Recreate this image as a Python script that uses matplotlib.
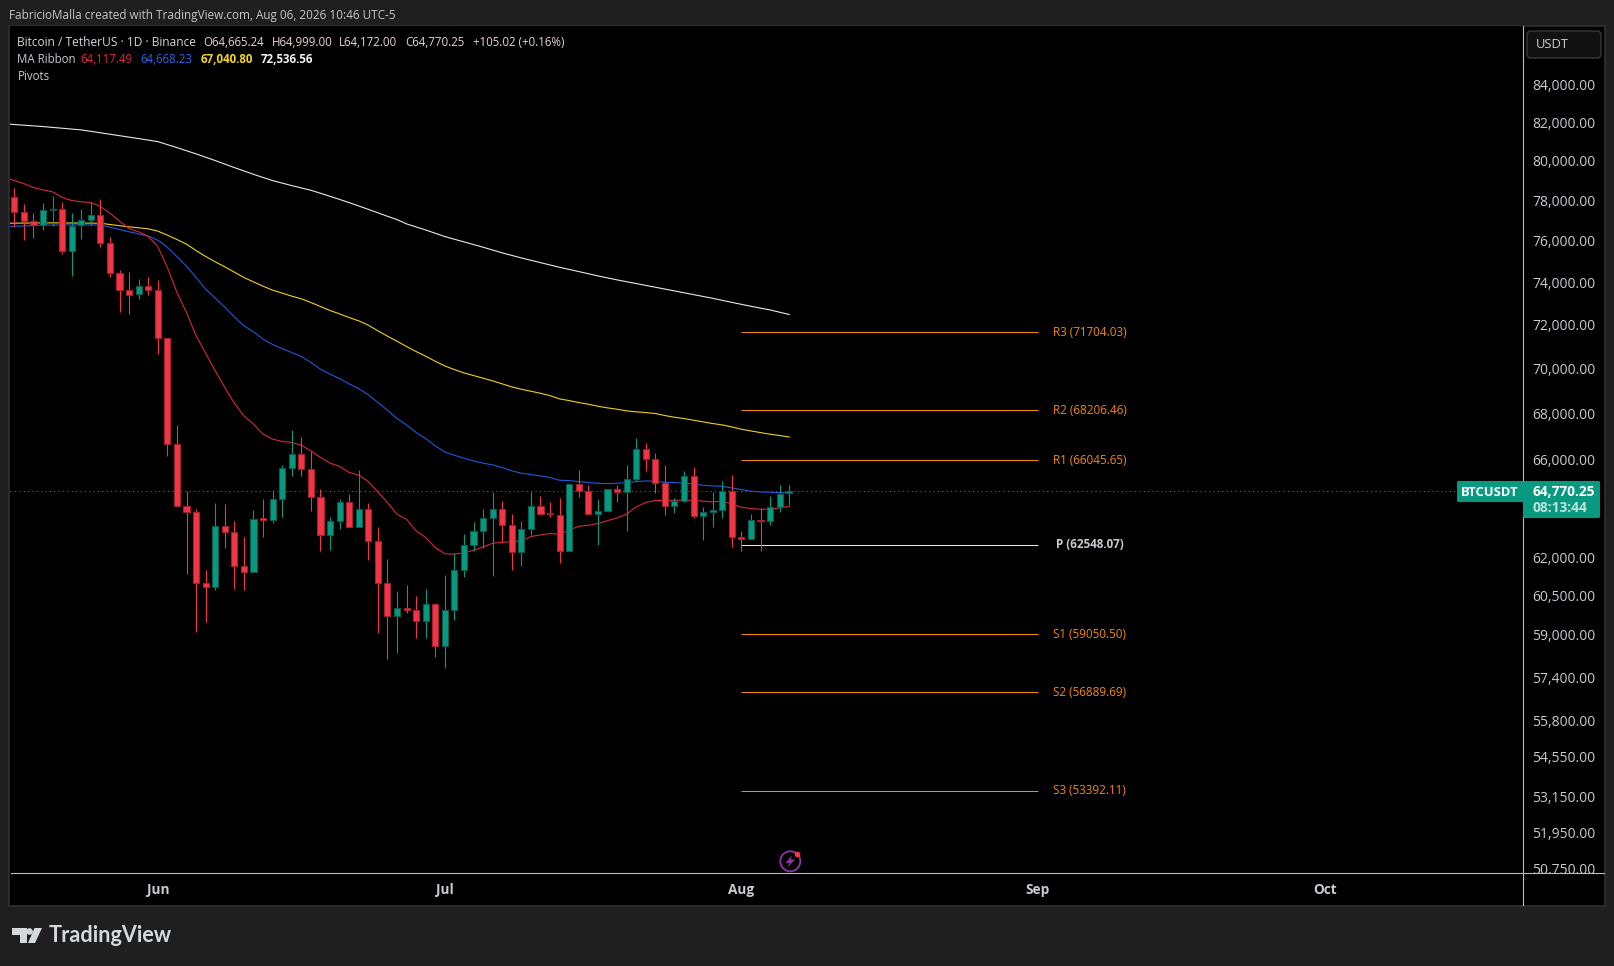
import numpy as np
import matplotlib
matplotlib.use('Agg')
import matplotlib.pyplot as plt
from matplotlib.patches import Rectangle, FancyBboxPatch, Polygon, Circle
from matplotlib.ticker import NullLocator
from matplotlib.transforms import ScaledTranslation

# days counted from Jun 1
days = list(range(-15, 67))
opens = [78205, 77502, 77055, 76858, 77585, 77652, 75581, 76825, 77087, 77351, 75973, 74475, 73665, 73477, 73901,
         73712, 71426, 66748, 64136, 63902, 61049, 60891, 63329, 63086, 61722, 61472, 63626, 63572, 64439, 65737,
         66329, 65695, 64522, 62965, 63531, 64315, 63288, 64026, 62722, 61049, 59767, 60077, 59999, 59574, 60232,
         58626, 59999, 61564, 62561, 63127, 63654, 64026, 63369, 62277, 63208, 64150, 63833, 63778, 62318, 65062,
         64770, 63819, 63943, 64853, 64729, 65273, 66544, 66118, 65104, 64150, 64357, 65400, 63736, 63902, 63985,
         64770, 62884, 62803, 63572, 63531, 64095, 64665.24]
highs = [78673, 77870, 77451, 77920, 78288, 77954, 77451, 77619, 77954, 78121, 76235, 74635, 74539, 74202, 74298,
         74154, 71426, 67555, 64770, 64000, 61537, 64246, 64205, 63531, 62857, 63957, 64412, 64784, 65836, 67334,
         67032, 66443, 64825, 63668, 64412, 64618, 65625, 64274, 63261, 61973, 60736, 60943, 60542, 60788, 60271,
         61339, 62211, 62978, 63464, 64000, 64701, 64329, 63792, 63504, 64701, 64536, 64288, 64453, 65104, 65625,
         64991, 64412, 64853, 64991, 65836, 67007, 66774, 66343, 65836, 64481, 65583, 65752, 64109, 64729, 65188,
         65414, 63127, 63792, 64067, 64563, 65019, 64999.00]
lows = [76759, 76104, 76202, 76579, 76792, 75421, 74363, 76137, 76825, 75743, 74298, 72660, 72565, 73272, 73445,
        70723, 66235, 64136, 61392, 59145, 59524, 60762, 62426, 60788, 60749, 61472, 62871, 63423, 63681, 65385,
        65385, 63916, 62304, 62345, 63181, 63288, 63288, 61947, 59107, 58126, 58336, 59858, 58917, 58917, 58200,
        57792, 59600, 61273, 62318, 62439, 61313, 62682, 61537, 61696, 62938, 63819, 63668, 61815, 62318, 64494,
        63750, 62534, 63943, 64288, 63113, 65160, 65583, 64660, 63750, 63833, 64302, 63626, 62749, 63275, 63626,
        62453, 62304, 62803, 62304, 63342, 63888, 64172.00]
closes = [77502, 77038, 76858, 77585, 77652, 75581, 76809, 77087, 77351, 75973, 74475, 73665, 73461, 73901, 73696,
          71426, 66748, 64136, 63902, 61049, 60891, 63329, 63073, 61722, 61472, 63613, 63558, 64439, 65737, 66329,
          65695, 64522, 62965, 63531, 64315, 63288, 64026, 62722, 61049, 59767, 60064, 59999, 59574, 60232, 58626,
          59999, 61564, 62561, 63127, 63654, 64026, 63369, 62277, 63208, 64150, 63819, 63792, 62318, 65062, 64770,
          63805, 63930, 64853, 64729, 65273, 66544, 66118, 65104, 64150, 64357, 65400, 63723, 63888, 63985, 64770,
          62884, 62803, 63572, 63531, 64095, 64646, 64770.25]

# MA ribbon
red_days = [-15.4] + days
red_ma = [79129, 79061, 78908, 78707, 78590, 78489, 78205, 78054, 77987, 77954, 77753, 77418, 77022, 76661, 76498,
          76268, 75776, 74763, 73571, 72628, 71549, 70753, 69956, 69210, 68516, 67958, 67598, 67166, 66949, 66849,
          66805, 66690, 66447, 66165, 65925, 65784, 65530, 65417, 65149, 64715, 64274, 63792, 63585, 63113, 62844,
          62439, 62197, 62171, 62237, 62331, 62466, 62614, 62655, 62668, 62709, 62884, 62951, 63005, 62978, 63140,
          63302, 63342, 63410, 63531, 63640, 63792, 64095, 64274, 64357, 64357, 64370, 64370, 64370, 64329, 64302,
          64329, 64205, 64081, 64026, 63998, 63998, 64053, 64117.49]
blue_days = [-15.4, -12, -8, -6] + list(range(-5, 67))
blue_ma = [76759, 76825, 76841, 76825, 76727, 76612, 76498, 76399, 76284, 76087, 75743, 75292, 74827, 74282, 73728,
           73303, 72879, 72425, 72010, 71733, 71395, 71149, 70965, 70784, 70603, 70332, 70031, 69806, 69610, 69371,
           69165, 68886, 68546, 68208, 67843, 67565, 67234, 66975, 66659, 66400, 66258, 66132, 66020, 65921, 65851,
           65737, 65597, 65498, 65442, 65385, 65315, 65202, 65188, 65146, 65104, 65076, 65062, 65076, 65104, 65146,
           65174, 65160, 65118, 65104, 65076, 65048, 64991, 64963, 64949, 64880, 64811, 64743, 64715, 64701, 64688,
           64668.23]
yellow_days = [-15.4, -11, -6, -5, -3, -1] + list(range(0, 67))
yellow_ma = [76923, 76940, 76923, 76858, 76743, 76645, 76530, 76333, 76120, 75891, 75581, 75292, 75036, 74795, 74539,
             74282, 74074, 73869, 73681, 73539, 73398, 73272, 73099, 72911, 72722, 72565, 72394, 72240, 72041, 71779,
             71533, 71301, 71057, 70829, 70615, 70387, 70177, 70013, 69863, 69744, 69625, 69505, 69371, 69237, 69132,
             69043, 68953, 68849, 68703, 68630, 68542, 68469, 68382, 68309, 68250, 68177, 68134, 68104, 68061, 67973,
             67900, 67842, 67769, 67696, 67623, 67565, 67477, 67375, 67303, 67232, 67161, 67104, 67040.80]
white_days = [-15.4, -12, -8, -5, -2, 0, 2, 4, 6, 8, 10, 12, 14, 16, 18, 20, 22, 24, 25, 26, 28, 30, 32, 34, 36, 38,
              40, 42, 44, 46, 48, 50, 52, 54, 56, 58, 60, 62, 64, 66]
white_ma = [81978, 81855, 81680, 81452, 81224, 81066, 80755, 80429, 80085, 79724, 79380, 79059, 78806, 78570, 78266,
            77948, 77612, 77266, 77102, 76888, 76589, 76264, 76004, 75744, 75468, 75224, 74996, 74773, 74567, 74360,
            74170, 73995, 73820, 73645, 73470, 73296, 73105, 72920, 72750, 72536.56]

# pivots for August
pivot_names = ['R3', 'R2', 'R1', 'P', 'S1', 'S2', 'S3']
pivot_levels = [71704.03, 68206.46, 66045.65, 62548.07, 59050.50, 56889.69, 53392.11]
pivot_start = 61
pivot_end = 92

price_ticks = [84000, 82000, 80000, 78000, 76000, 74000, 72000, 70000, 68000, 66000, 62000, 60500, 59000, 57400,
               55800, 54550, 53150, 51950, 50750]
month_ticks = [0, 30, 61, 92, 122]
month_labels = ['Jun', 'Jul', 'Aug', 'Sep', 'Oct']
last_price = 64770.25

W, H = 1615, 966
BG = '#1f1f1f'
UP, DOWN = '#089981', '#f23645'
UP_EDGE, DOWN_EDGE = '#0b5c4e', '#a3202e'
ORANGE = '#f58a07'
TXT = '#c9cbd0'
FONT = 'Open Sans'

plt.rcParams['font.family'] = FONT
fig = plt.figure(figsize=(W / 100, H / 100), dpi=100, facecolor=BG)


def px_axes(x0, y0, x1, y1):
    return [x0 / W, 1 - y1 / H, (x1 - x0) / W, (y1 - y0) / H]


def label(x, y, s, color=TXT, size=8.6, **kw):
    fig.text(x / W, 1 - y / H, s, color=color, fontsize=size, va='center', zorder=10, **kw)


# black chart panel with thin border
fig.add_artist(Rectangle((9 / W, 1 - 906 / H), 1596 / W, 880 / H, transform=fig.transFigure,
                         facecolor='black', edgecolor='#303030', lw=1.2, zorder=-1))

ax = fig.add_axes(px_axes(10.5, 26.3, 1523, 873.3), facecolor='black')
ax.set_yscale('log')
ax.set_ylim(50639, 87307)
ax.set_xlim(-15.4, 142.7)

# moving averages
ax.plot(white_days, white_ma, color='#e8e8e8', lw=0.8, zorder=2)
ax.plot(yellow_days, yellow_ma, color='#f2cf1f', lw=0.8, zorder=2)
ax.plot(blue_days, blue_ma, color='#2258de', lw=0.8, zorder=2)
ax.plot(red_days, red_ma, color='#d8283a', lw=0.8, zorder=2)

# candles
for d, o, h, l, c in zip(days, opens, highs, lows, closes):
    up = c >= o
    ax.vlines(d, l, h, color=UP if up else DOWN, lw=0.8, zorder=3)
    ax.bar(d, abs(c - o), bottom=min(o, c), width=0.64, color=UP if up else DOWN,
           edgecolor=UP_EDGE if up else DOWN_EDGE, lw=0.8, zorder=4)

# pivot lines and labels
for name, level in zip(pivot_names, pivot_levels):
    col = '#e8e8e8' if name == 'P' else ORANGE
    ax.hlines(level, pivot_start, pivot_end, color=col, lw=0.75, zorder=2)
    ax.text(97.4, level, f'{name} ({level:.2f})', color='#c9cbd0' if name == 'P' else ORANGE,
            fontsize=8.35, ha='center', va='center', fontweight='bold' if name == 'P' else 'normal')

# last price line
ax.axhline(last_price, color=UP, lw=0.75, ls=(0, (1, 3.2)), zorder=1)

for s in ['left', 'top']:
    ax.spines[s].set_visible(False)
ax.spines['right'].set_color('#b9bbc0')
ax.spines['bottom'].set_color('#b9bbc0')
ax.spines['right'].set_linewidth(0.8)
ax.spines['bottom'].set_linewidth(0.8)

ax.yaxis.tick_right()
ax.set_yticks(price_ticks)
ax.set_yticklabels([f'{p:,.2f}' for p in price_ticks])
ax.yaxis.set_minor_locator(NullLocator())
ax.tick_params(axis='y', length=0, pad=6.5, labelsize=10, labelcolor=TXT)
for lbl in ax.get_yticklabels():
    lbl.set_transform(lbl.get_transform() + ScaledTranslation(0, 1 / 72, fig.dpi_scale_trans))
ax.set_xticks(month_ticks)
ax.set_xticklabels(month_labels, fontweight='bold')
ax.tick_params(axis='x', length=0, pad=7, labelsize=9.8, labelcolor=TXT)

# bottom right corner hides the tail of the lowest price label, the axis lines run on through it
corner = fig.add_axes(px_axes(1523, 873.3, 1604, 905), facecolor='black', zorder=5)
corner.set_xticks([])
corner.set_yticks([])
for s in ['right', 'bottom']:
    corner.spines[s].set_visible(False)
for s in ['left', 'top']:
    corner.spines[s].set_color('#b9bbc0')
    corner.spines[s].set_linewidth(0.8)

# everything in screen pixels from here on
over = fig.add_axes([0, 0, 1, 1], facecolor='none', zorder=6)
over.set_xlim(0, W)
over.set_ylim(H, 0)
over.axis('off')

# USDT button
over.add_patch(FancyBboxPatch((1529, 33), 70, 23, boxstyle='round,pad=2,rounding_size=4',
                              facecolor='#121212', edgecolor='#383838', lw=1))
over.text(1535.5, 45, 'USDT', color=TXT, fontsize=9.4, va='center')

# price badge
over.add_patch(FancyBboxPatch((1458, 482), 65, 19, boxstyle='round,pad=1,rounding_size=1.5',
                              facecolor=UP, edgecolor='none'))
over.add_patch(FancyBboxPatch((1524, 482), 75, 35, boxstyle='round,pad=1,rounding_size=1.5',
                              facecolor=UP, edgecolor='none'))
over.text(1461, 492, 'BTCUSDT', color='white', fontsize=9.4, va='center', fontweight='bold')
over.text(1532.5, 491.5, f'{last_price:,.2f}', color='white', fontsize=9.9, va='center', fontweight='bold')
over.text(1532.5, 507.5, '08:13:44', color='#bfe3da', fontsize=9.9, va='center', fontweight='bold')

# lightning badge near the axis
over.add_patch(Circle((790.3, 861.3), 10, facecolor='none', edgecolor='#8d36a3', lw=1.3))
over.add_patch(Polygon([(792, 855.5), (785.5, 863), (789.5, 863), (787.5, 867.5), (795, 859.5), (790.8, 859.5)],
                       facecolor='#8d36a3', edgecolor='none'))
over.add_patch(Circle((797.5, 854.5), 2.8, facecolor='#f23645', edgecolor='none'))

# logo
logo = '#d6d9dc'
over.add_patch(Polygon([(12, 928), (27, 928), (27, 943), (20, 943), (20, 935), (12, 935)], facecolor=logo, edgecolor='none'))
over.add_patch(Circle((29.5, 931.5), 3.3, facecolor=logo, edgecolor='none'))
over.add_patch(Polygon([(34.5, 928), (42, 928), (35, 943), (28, 943)], facecolor=logo, edgecolor='none'))
over.text(48.5, 935.5, 'TradingView', color=logo, fontsize=15.6, va='center', family='Lato', fontweight='bold')

# header and legend rows
label(9, 15, 'FabricioMalla created with TradingView.com, Aug 06, 2026 10:46 UTC-5', '#c4c6cb', 8.45)
label(17.5, 42, 'Bitcoin / TetherUS · 1D · Binance', '#d3d5da', 8.65)
for x, s in [(203, 'O64,665.24'), (272, 'H64,999.00'), (339, 'L64,172.00'), (405, 'C64,770.25'),
             (473, '+105.02 (+0.16%)')]:
    label(x, 42, s, '#ecd3d5', 8.3)
label(17.5, 59.5, 'MA Ribbon', '#c9cbd0', 8.3)
label(80.5, 59.5, '64,117.49', '#e0283c', 8.3)
label(140.5, 59.5, '64,668.23', '#2f66e6', 8.3)
label(200.5, 59.5, '67,040.80', '#f7d51d', 8.3, fontweight='bold')
label(261, 59.5, '72,536.56', '#f2f2f2', 8.3, fontweight='bold')
label(17.5, 76, 'Pivots', '#c9cbd0', 8.3)

plt.savefig('out.png', dpi=100, facecolor=BG)
